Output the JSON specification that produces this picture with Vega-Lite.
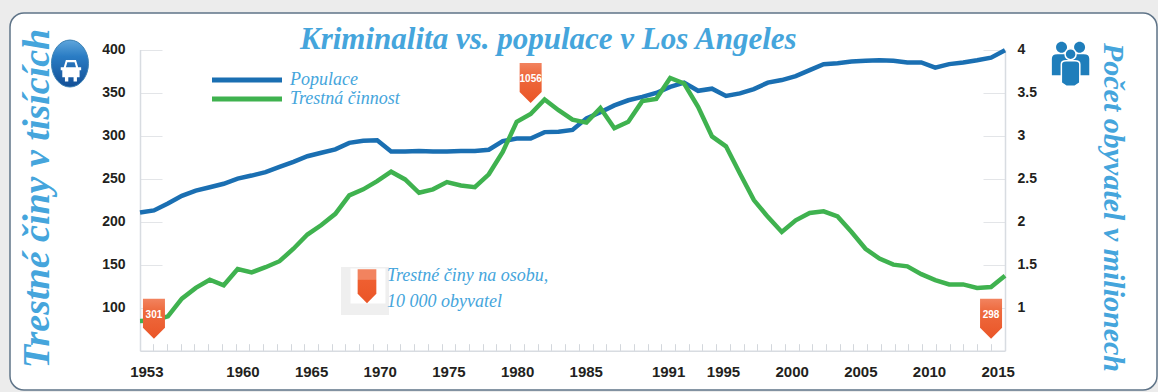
{"$schema":"https://vega.github.io/schema/vega-lite/v6.json","width":1147,"height":377,"padding":{"left":10,"top":13,"right":1,"bottom":2},"autosize":{"type":"none"},"background":"#ececec","view":{"fill":"#ffffff","stroke":"#5f7488","strokeWidth":1.5,"cornerRadius":14},"title":{"text":"Kriminalita vs. populace v Los Angeles","font":"Liberation Serif","fontStyle":"italic","fontWeight":"bold","fontSize":31,"color":"#45a5dc","anchor":"start","frame":"group","dx":290,"offset":-43},"datasets":{"years":[{"year":1953,"populace":2.105,"trestna":84.5},{"year":1954,"populace":2.13,"trestna":85},{"year":1955,"populace":2.21,"trestna":90},{"year":1956,"populace":2.3,"trestna":110.5},{"year":1957,"populace":2.36,"trestna":123},{"year":1958,"populace":2.4,"trestna":132.5},{"year":1959,"populace":2.44,"trestna":126},{"year":1960,"populace":2.5,"trestna":145},{"year":1961,"populace":2.535,"trestna":141},{"year":1962,"populace":2.575,"trestna":147},{"year":1963,"populace":2.635,"trestna":154},{"year":1964,"populace":2.695,"trestna":168.5},{"year":1965,"populace":2.76,"trestna":185},{"year":1966,"populace":2.8,"trestna":196},{"year":1967,"populace":2.84,"trestna":209},{"year":1968,"populace":2.915,"trestna":230.5},{"year":1969,"populace":2.94,"trestna":237.5},{"year":1970,"populace":2.945,"trestna":247},{"year":1971,"populace":2.815,"trestna":258},{"year":1972,"populace":2.815,"trestna":249},{"year":1973,"populace":2.82,"trestna":233.5},{"year":1974,"populace":2.815,"trestna":237.5},{"year":1975,"populace":2.815,"trestna":246},{"year":1976,"populace":2.82,"trestna":242},{"year":1977,"populace":2.82,"trestna":240},{"year":1978,"populace":2.835,"trestna":255},{"year":1979,"populace":2.935,"trestna":281},{"year":1980,"populace":2.965,"trestna":316},{"year":1981,"populace":2.965,"trestna":325},{"year":1982,"populace":3.04,"trestna":342},{"year":1983,"populace":3.045,"trestna":329.5},{"year":1984,"populace":3.065,"trestna":318.5},{"year":1985,"populace":3.2,"trestna":315},{"year":1986,"populace":3.27,"trestna":332},{"year":1987,"populace":3.35,"trestna":308.5},{"year":1988,"populace":3.41,"trestna":316},{"year":1989,"populace":3.45,"trestna":340},{"year":1990,"populace":3.495,"trestna":342.5},{"year":1991,"populace":3.565,"trestna":367},{"year":1992,"populace":3.615,"trestna":360.5},{"year":1993,"populace":3.52,"trestna":333.5},{"year":1994,"populace":3.545,"trestna":299},{"year":1995,"populace":3.46,"trestna":287.5},{"year":1996,"populace":3.49,"trestna":256},{"year":1997,"populace":3.54,"trestna":225},{"year":1998,"populace":3.615,"trestna":205.5},{"year":1999,"populace":3.645,"trestna":188},{"year":2000,"populace":3.69,"trestna":201.5},{"year":2001,"populace":3.76,"trestna":210},{"year":2002,"populace":3.83,"trestna":212},{"year":2003,"populace":3.84,"trestna":206},{"year":2004,"populace":3.86,"trestna":188},{"year":2005,"populace":3.87,"trestna":168.5},{"year":2006,"populace":3.875,"trestna":157},{"year":2007,"populace":3.87,"trestna":150},{"year":2008,"populace":3.85,"trestna":148},{"year":2009,"populace":3.85,"trestna":139},{"year":2010,"populace":3.79,"trestna":132},{"year":2011,"populace":3.83,"trestna":127},{"year":2012,"populace":3.85,"trestna":127},{"year":2013,"populace":3.875,"trestna":123},{"year":2014,"populace":3.905,"trestna":124},{"year":2015,"populace":3.99,"trestna":137}],"pins":[{"year":1954,"value":87,"label":"301"},{"year":1981,"value":361,"label":"1056"},{"year":2014,"value":87,"label":"298"}],"noteBox":[{"year":1969.13,"value":119.4}],"noteInner":[{"year":1969.34,"value":125.2}],"notePin":[{"year":1969.27,"value":125}],"note":[{"year":1970.7,"value":131,"text":"Trestné činy na osobu,\n10 000 obyvatel"}],"badge":[{"year":1947.98,"value":383.7}],"car":[{"year":1948.05,"value":376}],"people":[{"year":2019.7,"value":383}]},"layer":[{"data":{"name":"years"},"mark":{"type":"rule","opacity":0},"encoding":{"x":{"field":"year","type":"ordinal","scale":{"type":"band","range":[130,995],"paddingInner":0,"paddingOuter":0},"axis":{"orient":"bottom","offset":-39.3,"title":null,"labelAngle":0,"labelOverlap":false,"bandPosition":0,"tickSize":-7,"tickColor":"#d3d7dc","domainColor":"#d8dce1","domainWidth":1.5,"labelFont":"Liberation Sans","labelFontWeight":"bold","labelFontSize":15,"labelColor":"#231f20","labelPadding":21,"labelExpr":"indexof([1953,1960,1965,1970,1975,1980,1985,1991,1995,2000,2005,2010,2015],toNumber(datum.value))>=0?datum.label:''"}}}},{"data":{"name":"years"},"mark":{"type":"line","strokeWidth":4.5,"clip":false},"encoding":{"x":{"field":"year","type":"quantitative","scale":{"domain":[1953,2015],"range":[130,995]},"axis":null},"y":{"field":"populace","type":"quantitative","scale":{"domain":[0.5,4],"range":[337.7,36.5],"zero":false,"nice":false},"axis":{"orient":"right","offset":-152,"values":[1,1.5,2,2.5,3,3.5,4],"format":"~g","tickSize":-22,"tickColor":"#e3e5e8","domainColor":"#d8dce1","domainWidth":1.5,"grid":false,"labelFont":"Liberation Sans","labelFontWeight":"bold","labelFontSize":14,"labelColor":"#231f20","labelPadding":34,"title":"Počet obyvatel v milionech","titleFont":"Liberation Serif","titleFontStyle":"italic","titleFontWeight":"bold","titleFontSize":30,"titleColor":"#45a5dc","titleAngle":90,"titleAlign":"center","titleBaseline":"alphabetic","titleX":98,"titleY":194}},"color":{"datum":"Populace","type":"nominal","scale":{"domain":["Populace","Trestná činnost"],"range":["#1a6fb2","#3fb24f"]},"legend":{"orient":"none","legendX":228,"legendY":58,"title":null,"symbolType":"M-7,0H7","symbolSize":100,"symbolStrokeWidth":5,"labelFont":"Liberation Serif","labelFontStyle":"italic","labelFontSize":18,"labelColor":"#45a5dc","labelOffset":34,"rowPadding":-6,"padding":0}}}},{"data":{"name":"years"},"mark":{"type":"line","strokeWidth":4.5,"clip":false},"encoding":{"x":{"field":"year","type":"quantitative","scale":{"domain":[1953,2015],"range":[130,995]},"axis":null},"y":{"field":"trestna","type":"quantitative","scale":{"domain":[50,400],"range":[337.7,36.5],"zero":false,"nice":false},"axis":{"orient":"left","offset":-130,"values":[100,150,200,250,300,350,400],"tickSize":-22,"tickColor":"#e3e5e8","domainColor":"#d8dce1","domainWidth":1.5,"grid":false,"labelFont":"Liberation Sans","labelFontWeight":"bold","labelFontSize":14,"labelColor":"#231f20","labelPadding":37,"title":"Trestné činy v tisících","titleFont":"Liberation Serif","titleFontStyle":"italic","titleFontWeight":"bold","titleFontSize":38,"titleColor":"#45a5dc","titleAngle":-90,"titleAlign":"center","titleBaseline":"alphabetic","titleX":-92,"titleY":185}},"color":{"datum":"Trestná činnost","type":"nominal"}}},{"data":{"name":"noteBox"},"mark":{"type":"point","shape":"square","size":2304,"filled":true,"fill":"#efefef","opacity":1,"strokeWidth":0},"encoding":{"x":{"field":"year","type":"quantitative","scale":{"domain":[1953,2015],"range":[130,995]},"axis":null},"y":{"field":"value","type":"quantitative","scale":{"domain":[50,400],"range":[337.7,36.5],"zero":false,"nice":false},"axis":null}}},{"data":{"name":"noteInner"},"mark":{"type":"point","shape":"square","size":1225,"filled":true,"fill":"#ffffff","opacity":1,"strokeWidth":0},"encoding":{"x":{"field":"year","type":"quantitative","scale":{"domain":[1953,2015],"range":[130,995]},"axis":null},"y":{"field":"value","type":"quantitative","scale":{"domain":[50,400],"range":[337.7,36.5],"zero":false,"nice":false},"axis":null}}},{"data":{"name":"notePin"},"mark":{"type":"point","shape":"M-.55,-1H.55V.45L0,1L-.55,.45Z","size":1156,"filled":true,"fill":{"gradient":"linear","x1":0,"y1":0,"x2":0,"y2":1,"stops":[{"offset":0,"color":"#f2835f"},{"offset":0.3,"color":"#f2835f"},{"offset":0.32,"color":"#ef5f30"},{"offset":1,"color":"#ea5527"}]},"opacity":1,"strokeWidth":0},"encoding":{"x":{"field":"year","type":"quantitative","scale":{"domain":[1953,2015],"range":[130,995]},"axis":null},"y":{"field":"value","type":"quantitative","scale":{"domain":[50,400],"range":[337.7,36.5],"zero":false,"nice":false},"axis":null}}},{"data":{"name":"note"},"mark":{"type":"text","align":"left","baseline":"alphabetic","lineBreak":"\n","lineHeight":26,"font":"Liberation Serif","fontStyle":"italic","fontSize":18,"color":"#45a5dc"},"encoding":{"x":{"field":"year","type":"quantitative","scale":{"domain":[1953,2015],"range":[130,995]},"axis":null},"y":{"field":"value","type":"quantitative","scale":{"domain":[50,400],"range":[337.7,36.5],"zero":false,"nice":false},"axis":null},"text":{"field":"text"}}},{"data":{"name":"pins"},"mark":{"type":"point","shape":"M-.55,-1H.55V.45L0,1L-.55,.45Z","size":1600,"filled":true,"fill":{"gradient":"linear","x1":0,"y1":0,"x2":0,"y2":1,"stops":[{"offset":0,"color":"#f2835f"},{"offset":0.3,"color":"#ee6a3e"},{"offset":1,"color":"#ea5527"}]},"opacity":1,"strokeWidth":0},"encoding":{"x":{"field":"year","type":"quantitative","scale":{"domain":[1953,2015],"range":[130,995]},"axis":null},"y":{"field":"value","type":"quantitative","scale":{"domain":[50,400],"range":[337.7,36.5],"zero":false,"nice":false},"axis":null}}},{"data":{"name":"pins"},"mark":{"type":"text","dy":-4,"font":"Liberation Sans","fontWeight":"bold","fontSize":10,"color":"#ffffff"},"encoding":{"x":{"field":"year","type":"quantitative","scale":{"domain":[1953,2015],"range":[130,995]},"axis":null},"y":{"field":"value","type":"quantitative","scale":{"domain":[50,400],"range":[337.7,36.5],"zero":false,"nice":false},"axis":null},"text":{"field":"label"}}},{"data":{"name":"badge"},"mark":{"type":"point","shape":"M0,-1C.43,-1,.787,-.55,.787,0S.43,1,0,1S-.787,.55,-.787,0S-.43,-1,0,-1Z","size":2209,"filled":true,"fill":{"gradient":"linear","x1":0,"y1":0,"x2":0,"y2":1,"stops":[{"offset":0,"color":"#5fa6dc"},{"offset":0.35,"color":"#2a7cc4"},{"offset":1,"color":"#134f96"}]},"opacity":1,"stroke":"#3f83b5","strokeWidth":1},"encoding":{"x":{"field":"year","type":"quantitative","scale":{"domain":[1953,2015],"range":[130,995]},"axis":null},"y":{"field":"value","type":"quantitative","scale":{"domain":[50,400],"range":[337.7,36.5],"zero":false,"nice":false},"axis":null}}},{"data":{"name":"car"},"mark":{"type":"point","shape":"M-.6,-.25L-.42,-.85H.42L.6,-.25L.85,-.25V0H.72V.6H.5V.95H.22V.6H-.22V.95H-.5V.6H-.72V0H-.85V-.25ZM-.42,-.25H.42L.3,-.65H-.3Z","size":576,"filled":true,"fill":"#ffffff","opacity":1,"strokeWidth":0},"encoding":{"x":{"field":"year","type":"quantitative","scale":{"domain":[1953,2015],"range":[130,995]},"axis":null},"y":{"field":"value","type":"quantitative","scale":{"domain":[50,400],"range":[337.7,36.5],"zero":false,"nice":false},"axis":null}}},{"data":{"name":"people"},"mark":{"type":"point","shape":"M-.66,-.77a.25,.25 0 1,0 .5,0a.25,.25 0 1,0 -.5,0ZM.16,-.77a.25,.25 0 1,0 .5,0a.25,.25 0 1,0 -.5,0ZM-.85,-.25Q-.85,-.45,-.6,-.45H-.2Q-.05,-.45,-.05,-.25V.5H-.85ZM.05,-.25Q.05,-.45,.2,-.45H.6Q.85,-.45,.85,-.25V.5H.05Z","size":1936,"filled":true,"fill":"#1f7ebb","opacity":1,"strokeWidth":0},"encoding":{"x":{"field":"year","type":"quantitative","scale":{"domain":[1953,2015],"range":[130,995]},"axis":null},"y":{"field":"value","type":"quantitative","scale":{"domain":[50,400],"range":[337.7,36.5],"zero":false,"nice":false},"axis":null}}},{"data":{"name":"people"},"mark":{"type":"point","shape":"M-.25,-.45a.25,.25 0 1,0 .5,0a.25,.25 0 1,0 -.5,0ZM-.42,.0Q-.42,-.15,-.2,-.15H.2Q.42,-.15,.42,.0V.85L.2,1H-.2L-.42,.85Z","size":1936,"filled":true,"fill":"#1f7ebb","opacity":1,"stroke":"#ffffff","strokeWidth":1.5},"encoding":{"x":{"field":"year","type":"quantitative","scale":{"domain":[1953,2015],"range":[130,995]},"axis":null},"y":{"field":"value","type":"quantitative","scale":{"domain":[50,400],"range":[337.7,36.5],"zero":false,"nice":false},"axis":null}}}],"resolve":{"scale":{"x":"independent","y":"independent"},"axis":{"x":"independent","y":"independent"}}}
